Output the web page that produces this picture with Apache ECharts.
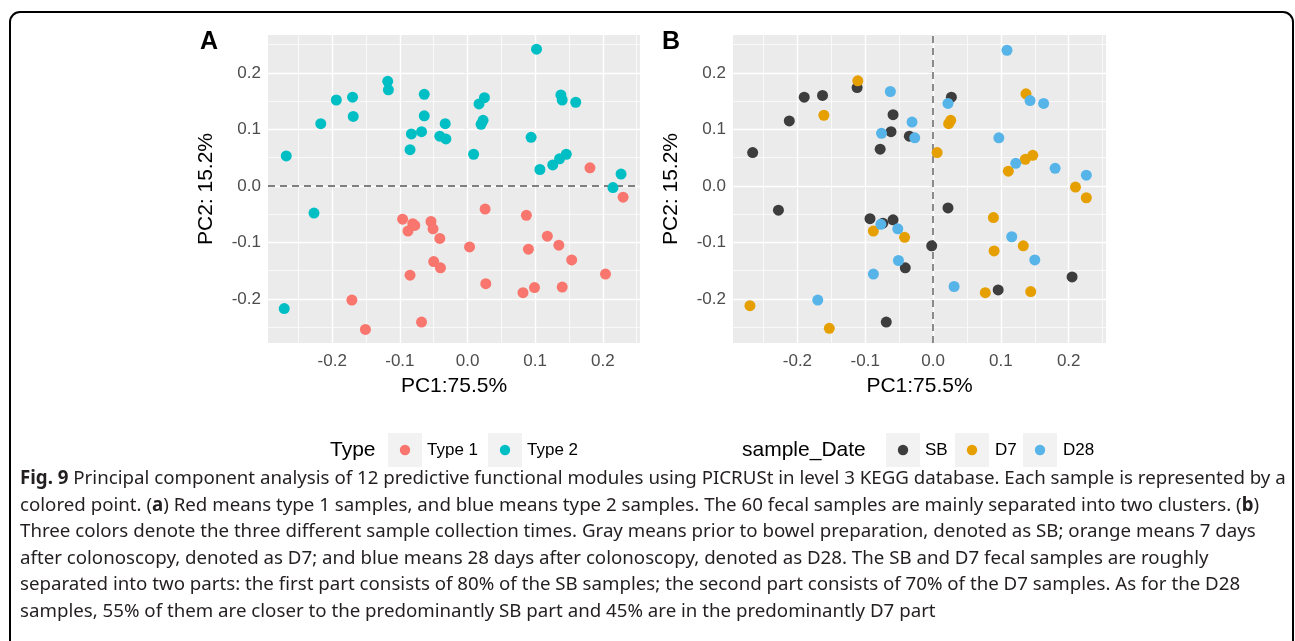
<!DOCTYPE html>
<html><head><meta charset="utf-8">
<script src="https://cdn.jsdelivr.net/npm/echarts@6/dist/echarts.min.js"></script>
<style>html,body{margin:0;padding:0;background:#fff}#c{width:1295px;height:641px}</style>
</head><body><div id="c"></div><script>
// ---- data ----
var xTicks = [-0.2, -0.1, 0.0, 0.1, 0.2];
var yTicks = [-0.2, -0.1, 0.0, 0.1, 0.2];
var minorX = [-0.25, -0.15, -0.05, 0.05, 0.15, 0.25];
var minorY = [-0.25, -0.15, -0.05, 0.05, 0.15, 0.25];
var xTitle = 'PC1:75.5%';
var yTitle = 'PC2: 15.2%';

var typeNames = ['Type 1', 'Type 2'];
var type1 = [[-0.096,-0.059],[-0.081,-0.067],[-0.078,-0.070],[-0.088,-0.080],[-0.054,-0.063],[-0.051,-0.076],[-0.041,-0.093],[-0.050,-0.134],[-0.040,-0.145],[-0.085,-0.158],[-0.171,-0.202],[-0.151,-0.254],[-0.068,-0.241],[0.181,0.032],[0.230,-0.020],[0.026,-0.041],[0.087,-0.052],[0.003,-0.108],[0.090,-0.112],[0.118,-0.089],[0.135,-0.105],[0.154,-0.131],[0.027,-0.173],[0.082,-0.189],[0.099,-0.180],[0.140,-0.179],[0.204,-0.156]];
var type2 = [[-0.268,0.053],[-0.217,0.110],[-0.194,0.152],[-0.170,0.157],[-0.169,0.123],[-0.118,0.185],[-0.117,0.170],[-0.064,0.162],[-0.064,0.124],[-0.033,0.110],[-0.083,0.092],[-0.068,0.096],[-0.041,0.088],[-0.032,0.083],[-0.085,0.064],[-0.227,-0.048],[-0.271,-0.217],[0.102,0.242],[0.017,0.145],[0.025,0.156],[0.020,0.109],[0.023,0.116],[0.009,0.056],[0.138,0.161],[0.140,0.152],[0.160,0.148],[0.094,0.086],[0.107,0.029],[0.126,0.037],[0.136,0.048],[0.146,0.056],[0.227,0.021],[0.215,-0.003]];

var dateNames = ['SB', 'D7', 'D28'];
var sb = [[-0.266,0.059],[-0.228,-0.043],[-0.212,0.115],[-0.190,0.157],[-0.163,0.160],[-0.112,0.174],[-0.059,0.126],[-0.062,0.096],[-0.035,0.088],[-0.078,0.065],[-0.093,-0.058],[-0.074,-0.066],[-0.059,-0.060],[-0.002,-0.106],[-0.041,-0.145],[-0.069,-0.241],[0.027,0.157],[0.022,-0.039],[0.205,-0.161],[0.096,-0.184]];
var d7 = [[-0.270,-0.212],[-0.161,0.125],[-0.153,-0.252],[-0.111,0.186],[0.006,0.059],[-0.088,-0.080],[-0.042,-0.091],[0.026,0.116],[0.023,0.110],[0.137,0.163],[0.111,0.026],[0.136,0.047],[0.147,0.054],[0.210,-0.002],[0.226,-0.021],[0.089,-0.056],[0.133,-0.106],[0.090,-0.115],[0.077,-0.189],[0.144,-0.187]];
var d28 = [[-0.170,-0.202],[-0.063,0.167],[-0.031,0.113],[-0.076,0.093],[-0.027,0.085],[-0.077,-0.068],[-0.052,-0.076],[-0.051,-0.132],[-0.088,-0.156],[0.022,0.146],[0.109,0.240],[0.143,0.151],[0.163,0.146],[0.097,0.085],[0.122,0.040],[0.180,0.031],[0.226,0.019],[0.116,-0.090],[0.150,-0.131],[0.031,-0.178]];

var captionLines = [
 '{b|Fig. 9} Principal component analysis of 12 predictive functional modules using PICRUSt in level 3 KEGG database. Each sample is represented by a',
 'colored point. ({b|a}) Red means type 1 samples, and blue means type 2 samples. The 60 fecal samples are mainly separated into two clusters. ({b|b})',
 'Three colors denote the three different sample collection times. Gray means prior to bowel preparation, denoted as SB; orange means 7 days',
 'after colonoscopy, denoted as D7; and blue means 28 days after colonoscopy, denoted as D28. The SB and D7 fecal samples are roughly',
 'separated into two parts: the first part consists of 80% of the SB samples; the second part consists of 70% of the D7 samples. As for the D28',
 'samples, 55% of them are closer to the predominantly SB part and 45% are in the predominantly D7 part'
];

// ---- styles ----
var typeColors = ['#F8766D', '#00BFC4'];
var dateColors = ['#3D3D3D', '#E69F00', '#56B4E9'];
var FONT = 'Liberation Sans';
var CAP = 18.7;
var grids = [
  {left: 268, top: 35, width: 372, height: 308, show: true, backgroundColor: '#EBEBEB', borderWidth: 0},
  {left: 733, top: 35, width: 373, height: 308, show: true, backgroundColor: '#EBEBEB', borderWidth: 0}
];

function fmt(v){ return (Math.abs(v) < 1e-9 ? 0 : v).toFixed(1); }
function xAxisFor(i){
  return {type:'value', gridIndex:i, min:-0.295, max:0.255,
    splitLine:{show:false}, axisLine:{show:false},
    axisTick:{show:true, length:4, customValues:xTicks, lineStyle:{color:'#333333', width:1.1}},
    axisLabel:{customValues:xTicks, formatter:fmt, color:'#4D4D4D', fontSize:17, fontFamily:FONT, margin:10},
    name:xTitle, nameLocation:'middle', nameGap:33,
    nameTextStyle:{color:'#000', fontSize:21, fontFamily:FONT}};
}
function yAxisFor(i){
  return {type:'value', gridIndex:i, min:-0.278, max:0.267,
    splitLine:{show:false}, axisLine:{show:false},
    axisTick:{show:true, length:4, customValues:yTicks, lineStyle:{color:'#333333', width:1.1}},
    axisLabel:{customValues:yTicks, formatter:fmt, color:'#4D4D4D', fontSize:17, fontFamily:FONT, margin:7},
    name:yTitle, nameLocation:'middle', nameGap:51, nameRotate:90,
    nameTextStyle:{color:'#000', fontSize:21, fontFamily:FONT}};
}
function gridLineSeries(i){
  var d = [];
  xTicks.forEach(function(v){ d.push({xAxis:v, lineStyle:{color:'#fff', width:1.4, type:'solid'}}); });
  minorX.forEach(function(v){ d.push({xAxis:v, lineStyle:{color:'#fff', width:0.7, type:'solid'}}); });
  yTicks.forEach(function(v){ d.push({yAxis:v, lineStyle:{color:'#fff', width:1.4, type:'solid'}}); });
  minorY.forEach(function(v){ d.push({yAxis:v, lineStyle:{color:'#fff', width:0.7, type:'solid'}}); });
  return {type:'scatter', xAxisIndex:i, yAxisIndex:i, data:[], silent:true, z:1,
    markLine:{silent:true, symbol:['none','none'], label:{show:false}, animation:false, z:1, data:d}};
}
function zeroLine(i, key){
  var o = {}; o[key] = 0; o.lineStyle = {color:'#7F7F7F', width:1.8, type:[7,5]};
  return {type:'scatter', xAxisIndex:i, yAxisIndex:i, data:[], silent:true, z:2,
    markLine:{silent:true, symbol:['none','none'], label:{show:false}, animation:false, z:2, data:[o]}};
}
function pts(name, data, color, i){
  return {type:'scatter', name:name, xAxisIndex:i, yAxisIndex:i, data:data, symbolSize:11, z:10,
    itemStyle:{color:color, opacity:1}, emphasis:{disabled:true}};
}

// ---- graphics: titles, legends, caption, frame ----
var g = [];
g.push({type:'rect', shape:{x:10, y:12, width:1283, height:700, r:10}, style:{fill:'none', stroke:'#000', lineWidth:2}, silent:true});
g.push({type:'text', x:209, y:42, style:{text:'A', font:'bold 25px "Liberation Sans"', fill:'#000', align:'center', verticalAlign:'middle'}});
g.push({type:'text', x:671, y:42, style:{text:'B', font:'bold 25px "Liberation Sans"', fill:'#000', align:'center', verticalAlign:'middle'}});

function legend(titleText, titleX, names, colors, boxXs, labelXs){
  g.push({type:'text', x:titleX, y:450, style:{text:titleText, font:'21px "Liberation Sans"', fill:'#000', verticalAlign:'middle'}});
  names.forEach(function(n, k){
    g.push({type:'rect', shape:{x:boxXs[k], y:433, width:34, height:34}, style:{fill:'#F2F2F2'}});
    g.push({type:'circle', shape:{cx:boxXs[k]+17, cy:450, r:5.2}, style:{fill:colors[k]}});
    g.push({type:'text', x:labelXs[k], y:450, style:{text:n, font:'17px "Liberation Sans"', fill:'#000', verticalAlign:'middle'}});
  });
}
legend('Type', 330, typeNames, typeColors, [388, 488], [427, 527]);
legend('sample_Date', 742, dateNames, dateColors, [886, 955, 1023], [925, 995, 1063]);

captionLines.forEach(function(t, k){
  g.push({type:'text', x:20, y:479 + k*26.5, style:{text:t, fontSize:CAP, fontFamily:'Noto Sans', fill:'#231F20', verticalAlign:'middle',
    rich:{b:{fontWeight:'bold', fontSize:CAP, fontFamily:'Noto Sans', fill:'#231F20'}}}});
});

var chart = echarts.init(document.getElementById('c'), null, {renderer:'canvas'});
chart.setOption({
  animation:false,
  backgroundColor:'#fff',
  grid:grids,
  xAxis:[xAxisFor(0), xAxisFor(1)],
  yAxis:[yAxisFor(0), yAxisFor(1)],
  series:[
    gridLineSeries(0), gridLineSeries(1),
    zeroLine(0, 'yAxis'), zeroLine(1, 'xAxis'),
    pts(typeNames[0], type1, typeColors[0], 0),
    pts(typeNames[1], type2, typeColors[1], 0),
    pts(dateNames[0], sb, dateColors[0], 1),
    pts(dateNames[1], d7, dateColors[1], 1),
    pts(dateNames[2], d28, dateColors[2], 1)
  ],
  graphic:g
});
</script></body></html>
